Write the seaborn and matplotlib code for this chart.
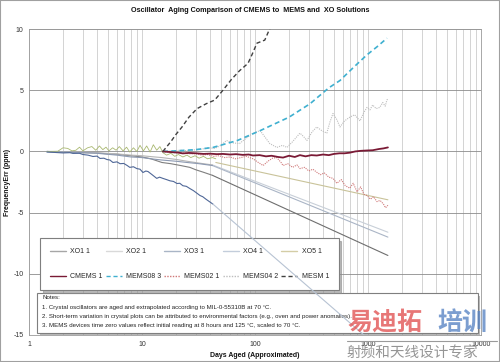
import matplotlib
matplotlib.use("Agg")
import matplotlib.pyplot as plt
import matplotlib.patheffects as pe
from matplotlib.lines import Line2D
from matplotlib.patches import Rectangle
from matplotlib.ticker import FixedLocator, LogLocator, NullFormatter
import seaborn as sns

sns.set_style("white")
plt.rcParams["font.family"] = ["Liberation Sans", "DejaVu Sans"]
plt.rcParams["axes.unicode_minus"] = False

# ---- data (days aged, ppm) ----
# crystal oscillators: measured part
xo1_days = [1.44, 2, 3, 4, 5, 6, 7, 8, 10, 12, 15, 18, 22, 26.5, 30, 35, 42]
xo1_vals = [0, -0.05, -0.1, -0.12, -0.2, -0.22, -0.3, -0.35, -0.45, -0.6, -0.9, -1.0, -1.15, -1.3, -1.5, -1.7, -1.95]
xo2_days = [1.44, 2, 3, 4, 6, 8, 10, 12, 15, 20, 25, 32, 42]
xo2_vals = [0, -0.02, -0.05, -0.1, -0.2, -0.3, -0.35, -0.42, -0.5, -0.65, -0.8, -0.95, -1.1]
xo3_days = [1.44, 1.7, 2.0, 2.3, 2.45, 2.8, 3.0, 3.33, 3.68, 4.0, 4.25, 4.6, 4.9, 5.2, 5.53,
            6.0, 6.4, 6.9, 7.4, 7.8, 8.4, 9.0, 9.6, 10.2, 10.8, 11.3, 12.25, 13.5, 14.3, 15.3,
            16.5, 17.7, 19, 20.4, 21.6, 23, 24.7, 26.5, 28.5, 30.5, 32.6, 34.5, 36.8, 39.5, 42.4]
xo3_vals = [-0.05, -0.08, -0.12, -0.1, -0.16, -0.15, -0.25, -0.3, -0.41, -0.38, -0.57, -0.55, -0.66,
            -0.7, -0.9, -0.85, -1.0, -0.98, -1.15, -1.3, -1.25, -1.4, -1.45, -1.72, -1.6, -1.64,
            -1.89, -2.2, -2.1, -2.2, -2.3, -2.4, -2.45, -2.62, -2.6, -2.8, -2.85, -3.03, -3.2,
            -3.4, -3.6, -3.7, -3.9, -4.1, -4.3]
xo4_days = [1.44, 2, 3, 4, 6, 8, 10, 12, 15, 20, 25, 32, 42]
xo4_vals = [0, -0.05, -0.1, -0.15, -0.3, -0.45, -0.5, -0.6, -0.7, -0.8, -0.9, -1.0, -1.15]
xo5_days = [1.44, 1.8, 2.0, 2.2, 2.4, 2.6, 2.8, 3.0, 3.3, 3.6, 3.9, 4.2, 4.5, 4.8, 5.1, 5.5, 5.9,
            6.3, 6.8, 7.3, 7.8, 8.4, 9.0, 9.6, 10.3, 11, 11.8, 12.6, 13.5, 14.4, 15.3, 16.5, 18,
            19.5, 21, 23, 25, 27, 29.5, 32, 35, 38, 42, 45]
xo5_vals = [0, 0.02, 0.3, 0.25, 0.05, 0.1, 0.35, 0.05, 0.3, 0.4, 0.1, 0.45, 0.15, 0.35, 0.05, 0.3,
            0.1, 0.4, 0.05, 0.35, -0.05, 0.3, 0.0, 0.5, 0.05, 0.45, -0.05, 0.55, 0.1, 0.4, -0.1,
            -0.3, -0.15, -0.4, -0.25, -0.45, -0.3, -0.5, -0.35, -0.55, -0.4, -0.6, -0.5, -0.6]

# crystal oscillators: extrapolated (start, end)
xo1_trend_days, xo1_trend_vals = [42, 1500], [-1.95, -8.5]
xo2_trend_days, xo2_trend_vals = [42, 1500], [-1.1, -6.6]
xo3_trend_days, xo3_trend_vals = [42.4, 1500], [-4.3, -16.7]
xo4_trend_days, xo4_trend_vals = [42, 1500], [-1.15, -7.0]
xo5_trend_days, xo5_trend_vals = [45, 1500], [-0.9, -3.95]

# MEMS devices
cmems_days = [15.3, 18, 21, 23, 26, 30, 35, 40, 46, 52, 60, 68, 78, 88, 96, 110, 125, 140, 160,
              177, 200, 225, 250, 280, 315, 352, 400, 450, 500, 560, 620, 690, 770, 860, 980,
              1100, 1250, 1370, 1500]
cmems_vals = [0, -0.05, -0.1, -0.16, -0.12, -0.15, -0.2, -0.18, -0.22, -0.2, -0.25, -0.22, -0.28,
              -0.25, -0.33, -0.3, -0.4, -0.35, -0.45, -0.5, -0.35, -0.45, -0.3, -0.4, -0.3, -0.33,
              -0.25, -0.3, -0.2, -0.15, -0.15, -0.1, 0.0, 0.05, 0.08, 0.1, 0.2, 0.25, 0.33]
mems08_days = [15.3, 20, 30, 42.5, 70, 111, 200, 307, 450, 565, 750, 980, 1200, 1473]
mems08_vals = [0, 0.05, 0.15, 0.33, 0.9, 1.7, 2.8, 3.9, 5.2, 5.8, 6.9, 7.9, 8.55, 9.26]
mems02_days = [15.3, 17, 19, 21, 24, 27, 30, 34, 38, 43, 48, 54, 60, 67, 75, 84, 96, 107, 118,
               130, 143, 156, 170, 177, 195, 215, 235, 250, 275, 300, 325, 352, 380, 410, 450,
               490, 530, 580, 630, 690, 740, 800, 860, 920, 980, 1050, 1120, 1200, 1280, 1370,
               1430, 1500]
mems02_vals = [0, -0.05, -0.1, -0.08, -0.15, -0.2, -0.18, -0.3, -0.25, -0.4, -0.35, -0.5, -0.45,
               -0.6, -0.5, -0.4, -0.6, -0.9, -1.15, -0.8, -0.55, -0.5, -0.9, -1.15, -1.0, -1.3,
               -1.1, -1.4, -1.3, -1.6, -1.45, -1.7, -1.9, -1.75, -2.1, -2.2, -2.6, -2.3, -2.8,
               -3.0, -2.6, -3.3, -2.9, -3.5, -3.6, -3.9, -3.7, -4.1, -4.0, -4.3, -4.6, -4.4]
mems04_days = [15.3, 18, 22, 26, 30, 34, 39, 44, 50, 56, 63, 73, 84, 96, 111, 122, 135, 156, 175,
               192, 215, 250, 270, 288, 320, 352, 390, 432, 460, 490, 530, 565, 620, 690, 760,
               850, 920, 980, 1040, 1100, 1180, 1270, 1350, 1420, 1470, 1500]
mems04_vals = [0, 0.05, 0.1, 0.05, 0.15, 0.2, 0.3, 0.25, 0.5, 0.9, 0.7, 0.65, 1.1, 1.5, 1.7, 1.2,
               0.65, 0.33, 0.5, 0.33, 0.8, 1.5, 1.2, 0.9, 1.6, 2.0, 1.7, 1.5, 2.4, 3.1, 2.6, 2.0,
               2.5, 2.8, 3.0, 2.5, 3.2, 3.6, 3.4, 3.8, 3.5, 3.6, 4.0, 3.7, 4.2, 4.3]
mesm_days = [15.3, 18, 20, 22.6, 26, 30.7, 37, 44, 52, 62, 73, 86.7, 95, 104, 122, 136, 150]
mesm_vals = [0, 0.8, 1.4, 2.0, 2.8, 3.5, 3.9, 4.2, 5.0, 5.9, 6.6, 7.2, 8.0, 8.85, 9.1, 10.1, 11.2]

legend_labels = ["XO1 1", "XO2 1", "XO3 1", "XO4 1", "XO5 1",
                 "CMEMS 1", "MEMS08 3", "MEMS02 1", "MEMS04 2", "MESM 1"]
legend_colors = ["#a6a6a6", "#d9d9d9", "#a9b5c6", "#c3cddb", "#d4cda6",
                 "#7a1a35", "#3fb0d0", "#d07878", "#bdbdbd", "#404040"]
legend_styles = ["-", "-", "-", "-", "-", "-", (0, (3, 2)), (0, (1, 1)), (0, (1, 1)), (0, (3, 2))]

x_ticks = [1, 10, 100, 1000, 10000]
x_tick_labels = ["1", "10", "100", "1000", "10000"]
y_ticks = [-15, -10, -5, 0, 5, 10]

notes = ["Notes:",
         "1. Crystal oscillators are aged and extrapolated according to MIL-0-55310B at 70 \u00b0C.",
         "2. Short-term variation in crystal plots can be attributed to environmental factors (e.g., oven and power anomalies).",
         "3. MEMS devices time zero values reflect initial reading at 8 hours and 125 \u00b0C, scaled to 70 \u00b0C."]


def draw(ax, days, vals, color, lw=0.8, ls="-", z=3):
    sns.lineplot(x=days, y=vals, ax=ax, color=color, linewidth=lw, linestyle=ls,
                 zorder=z, estimator=None, sort=False, legend=False)


fig = plt.figure(figsize=(5, 3.62), dpi=100)
ax = fig.add_axes([0.058, 0.0746, 0.904, 0.845])

# trends first, measured on top
draw(ax, xo1_trend_days, xo1_trend_vals, "#6e6e6e", 0.8)
draw(ax, xo2_trend_days, xo2_trend_vals, "#c8cfd8", 0.8)
draw(ax, xo4_trend_days, xo4_trend_vals, "#aab5c6", 0.8)
draw(ax, xo5_trend_days, xo5_trend_vals, "#c9c39a", 0.8)
draw(ax, xo3_trend_days, xo3_trend_vals, "#b7c3d3", 0.8, z=7)

draw(ax, xo1_days, xo1_vals, "#7f7f7f", 0.8)
draw(ax, xo2_days, xo2_vals, "#b5b5b5", 0.8)
draw(ax, xo4_days, xo4_vals, "#8d9ab2", 0.8)
draw(ax, xo5_days, xo5_vals, "#a9b870", 0.6)
draw(ax, xo3_days, xo3_vals, "#4f6797", 0.8)

draw(ax, mems04_days, mems04_vals, legend_colors[8], 0.8, legend_styles[8])
draw(ax, mems02_days, mems02_vals, legend_colors[7], 0.8, legend_styles[7])
draw(ax, mems08_days, mems08_vals, legend_colors[6], 1.2, legend_styles[6])
draw(ax, cmems_days, cmems_vals, legend_colors[5], 1.3)
draw(ax, mesm_days, mesm_vals, legend_colors[9], 1.0, legend_styles[9])

ax.set_xscale("log")
ax.set_xlim(1, 10000)
ax.set_ylim(-15, 10)
ax.xaxis.set_major_locator(FixedLocator(x_ticks))
ax.set_xticklabels(x_tick_labels)
ax.xaxis.set_minor_locator(LogLocator(base=10, subs=range(2, 10)))
ax.xaxis.set_minor_formatter(NullFormatter())
ax.set_yticks(y_ticks)
ax.set_yticklabels([str(v) for v in y_ticks])
ax.tick_params(axis="both", which="major", labelsize=5, colors="#9a9a9a",
               labelcolor="#333333", length=2.5, width=0.6, pad=1.5, direction="out")
ax.tick_params(axis="x", which="minor", length=0)
ax.grid(axis="x", which="both", color="#cccccc", linewidth=0.6)
ax.grid(axis="y", which="major", color="#8c8c8c", linewidth=0.6)
ax.set_axisbelow(True)
for sp in ax.spines.values():
    sp.set_color("#9a9a9a")
    sp.set_linewidth(0.6)
ax.set_xlabel("")
ax.set_ylabel("")

# legend fills row by row like the original (matplotlib fills by column)
order = [0, 5, 1, 6, 2, 7, 3, 8, 4, 9]
handles = [Line2D([], [], color=legend_colors[i], linestyle=legend_styles[i], linewidth=1.0)
           for i in order]
labels = [legend_labels[i] for i in order]
leg = ax.legend(handles, labels, ncol=5, loc="upper left",
                bbox_to_anchor=(0.0177, 0.15, 0.675, 0.177), mode="expand",
                fontsize=5, frameon=True, fancybox=False, labelspacing=2.6,
                handlelength=2.3, handletextpad=0.6, borderpad=1.4,
                shadow={"color": "0.55", "alpha": 0.6})
leg.get_frame().set_edgecolor("#7f7f7f")
leg.get_frame().set_linewidth(0.8)
leg.set_zorder(5)

box = Rectangle((0.0177, 0.0065), 0.975, 0.131, transform=ax.transAxes,
                facecolor="white", edgecolor="#7f7f7f", linewidth=0.8, zorder=5,
                path_effects=[pe.SimplePatchShadow(offset=(2, -2), shadow_rgbFace="0.55", alpha=0.6),
                              pe.Normal()])
ax.add_patch(box)
note_y = [0.121, 0.090, 0.061, 0.032]
for yy, line in zip(note_y, notes):
    ax.text(0.029, yy, line, transform=ax.transAxes, fontsize=4.4, color="#222222",
            va="center", ha="left", zorder=6)

fig.text(0.5, 0.970, "Oscillator  Aging Comparison of CMEMS to  MEMS and  XO Solutions",
         fontsize=5.2, fontweight="bold", ha="center", va="center", color="#111111")
fig.text(0.016, 0.497, "FrequencyErr (ppm)", rotation=90, fontsize=5, fontweight="bold",
         ha="center", va="center", color="#111111")
fig.text(0.51, 0.019, "Days Aged (Approximated)", fontsize=5, fontweight="bold",
         ha="center", va="center", color="#111111")

# watermark of the source image
cjk = ["Noto Sans CJK SC", "DejaVu Sans"]
fig.text(0.694, 0.108, "\u6613\u8fea\u62d3", family=cjk, fontsize=18, fontweight="bold",
         color="#e25555", alpha=0.8, ha="left", va="center")
fig.text(0.874, 0.108, "\u57f9\u8bad", family=cjk, fontsize=18, fontweight="bold",
         color="#5b86c5", alpha=0.8, ha="left", va="center")
fig.text(0.694, 0.024, "\u5c04\u9891\u548c\u5929\u7ebf\u8bbe\u8ba1\u4e13\u5bb6", family=cjk,
         fontsize=10.5, color="#8a8a8a", alpha=0.9, ha="left", va="center")
fig.add_artist(Line2D([0.694, 0.994], [0.058, 0.058], transform=fig.transFigure,
                      color="#9a9a9a", linewidth=0.8))

fig.add_artist(Rectangle((0, 0), 1, 1, transform=fig.transFigure, fill=False,
                         edgecolor="#a0a0a0", linewidth=1.5))

fig.savefig("out.png", dpi=100)
